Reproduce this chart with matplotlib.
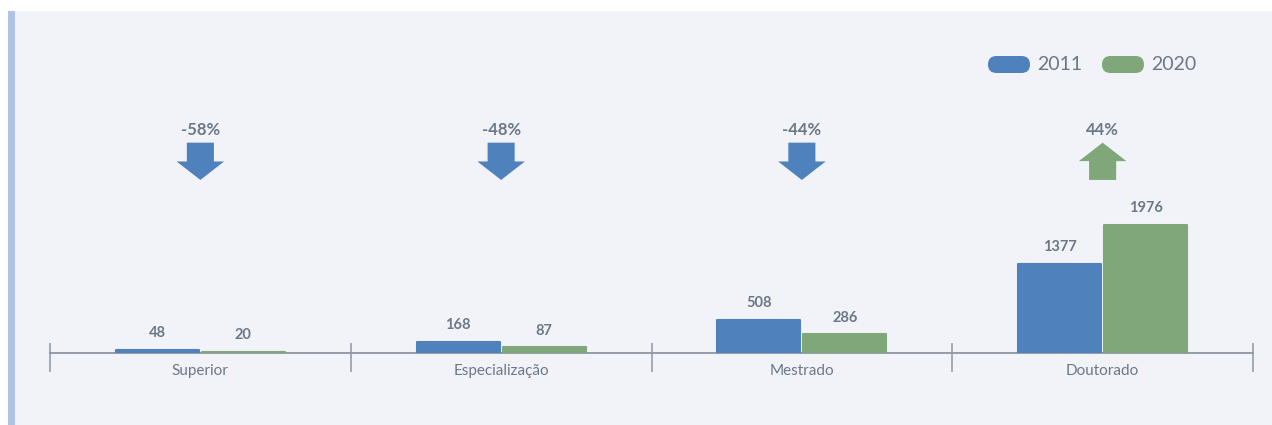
import matplotlib.pyplot as plt
import matplotlib.patches as mpatches
from matplotlib.transforms import blended_transform_factory

plt.rcParams["font.family"] = ["Lato", "DejaVu Sans"]

CATEGORIES = ["Superior", "Especialização", "Mestrado", "Doutorado"]
YEARS = ["2011", "2020"]
V2011 = [48, 168, 508, 1377]
V2020 = [20, 87, 286, 1976]

BLUE = "#4f81bd"
GREEN = "#80a77a"
TEXT = "#6b7886"
AXIS = "#8c97a3"
PANEL = "#f1f3f9"
STRIP = "#b0c3e5"

W, H = 1272, 425
fig = plt.figure(figsize=(W / 100, H / 100), dpi=100)
fig.patch.set_facecolor("white")

# panel background + left accent strip
fig.patches.append(mpatches.Rectangle(
  (8 / W, 0), 1 - 8 / W, (H - 11) / H,
  transform=fig.transFigure, facecolor=PANEL, edgecolor="none", zorder=-2,
))
fig.patches.append(mpatches.Rectangle(
  (8 / W, 0), 7 / W, (H - 11) / H,
  transform=fig.transFigure, facecolor=STRIP, edgecolor="none", zorder=-1,
))

ax = fig.add_axes([50 / W, 72 / H, 1203 / W, 342 / H])
ax.set_facecolor("none")
x = list(range(len(CATEGORIES)))
bw = 0.276
off = 0.143

b1 = ax.bar([i - off for i in x], V2011, width=bw, color=BLUE,
            edgecolor=BLUE, linewidth=1.5, joinstyle="round", zorder=3)
b2 = ax.bar([i + off for i in x], V2020, width=bw, color=GREEN,
            edgecolor=GREEN, linewidth=1.5, joinstyle="round", zorder=3)

for bars in (b1, b2):
  for r in bars:
    ax.annotate(
      f"{int(r.get_height())}",
      (r.get_x() + r.get_width() / 2, r.get_height()),
      xytext=(0, 7), textcoords="offset points",
      ha="center", va="bottom", fontsize=10.5, fontweight="bold", color=TEXT,
    )

ax.set_xlim(-0.5, len(CATEGORIES) - 0.5)
ax.set_ylim(0, 5280)
ax.set_yticks([])
ax.set_xticks(x)
ax.set_xticklabels(CATEGORIES, fontsize=11, color=TEXT)
ax.tick_params(axis="x", length=0, pad=8)
for s in ("top", "left", "right"):
  ax.spines[s].set_visible(False)
ax.spines["bottom"].set_color(AXIS)
ax.spines["bottom"].set_linewidth(1.3)

trans = blended_transform_factory(ax.transData, ax.transAxes)
ax.vlines([i - 0.5 for i in range(len(CATEGORIES) + 1)], -19 / 342, 10 / 342,
          transform=trans, color=AXIS, linewidth=1.1, clip_on=False)

# change arrows
for i, (a, b) in enumerate(zip(V2011, V2020)):
  pct = round((b - a) / a * 100)
  ax.text(i, 0.651, f"{pct}%", transform=trans, ha="center", va="center",
          fontsize=12, fontweight="bold", color=TEXT)
  up = pct > 0
  color = GREEN if up else BLUE
  y0, y1 = (0.506, 0.615) if up else (0.615, 0.506)
  ax.add_patch(mpatches.FancyArrow(
    i, y0, 0, y1 - y0, width=0.09, head_width=0.158, head_length=0.054,
    length_includes_head=True, transform=trans, color=color,
    linewidth=0, clip_on=False,
  ))

# legend pills
for px, label, color in ((988, YEARS[0], BLUE), (1102, YEARS[1], GREEN)):
  fig.patches.append(mpatches.FancyBboxPatch(
    (px / W, (H - 73) / H), 42 / W, 17 / H,
    boxstyle=mpatches.BoxStyle("Round", pad=0, rounding_size=8.5 / W),
    transform=fig.transFigure, facecolor=color, edgecolor="none",
    mutation_aspect=W / H,
  ))
  fig.text((px + 49) / W, (H - 64.5) / H, label, ha="left", va="center",
           fontsize=14, color=TEXT)

fig.savefig("out.png", dpi=100)
